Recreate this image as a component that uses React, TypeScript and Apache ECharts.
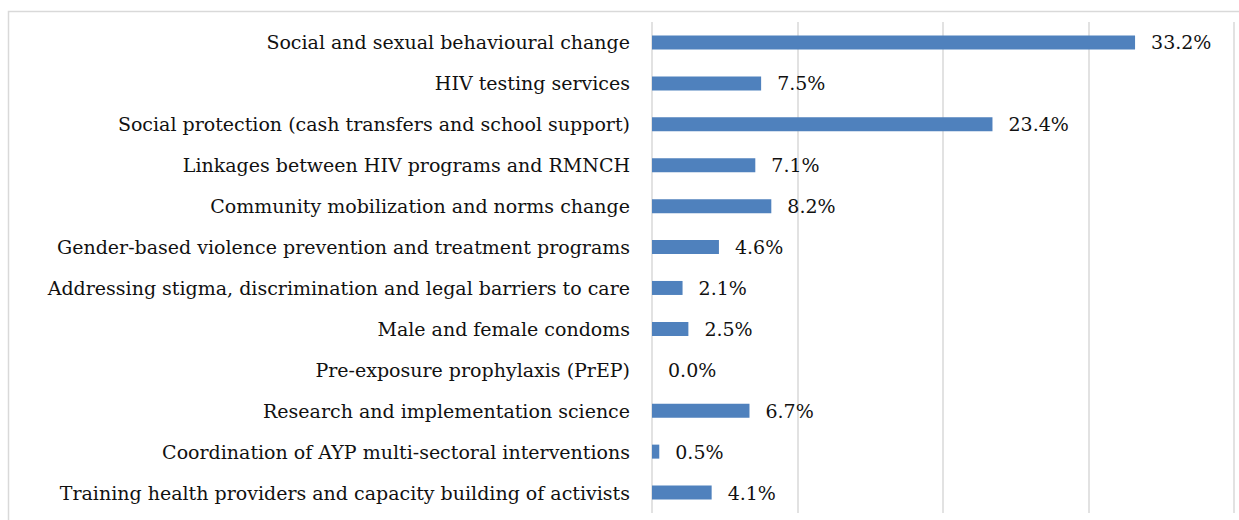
import React, { useEffect, useRef } from "react";
import * as echarts from "echarts";

const categories = [
  "Social and sexual behavioural change",
  "HIV testing services",
  "Social protection (cash transfers and school support)",
  "Linkages between HIV programs and RMNCH",
  "Community mobilization and norms change",
  "Gender-based violence prevention and treatment programs",
  "Addressing stigma, discrimination and legal barriers to care",
  "Male and female condoms",
  "Pre-exposure prophylaxis (PrEP)",
  "Research and implementation science",
  "Coordination of AYP multi-sectoral interventions",
  "Training health providers and capacity building of activists",
];
const values = [33.2, 7.5, 23.4, 7.1, 8.2, 4.6, 2.1, 2.5, 0.0, 6.7, 0.5, 4.1];
const axisMax = 40;

export default function App() {
  const ref = useRef<HTMLDivElement>(null);
  useEffect(() => {
    const chart = echarts.init(ref.current!, null, { renderer: "svg" });
    chart.setOption({
      animation: false,
      backgroundColor: "#ffffff",
      graphic: [
        {
          type: "rect",
          shape: { x: 8.5, y: 11.5, width: 1240, height: 520 },
          style: { fill: "none", stroke: "#d9d9d9", lineWidth: 1.5 },
          silent: true,
        },
      ],
      grid: { left: 652, right: 5, top: 22, bottom: 7, containLabel: false },
      xAxis: {
        type: "value",
        min: 0,
        max: axisMax,
        interval: 10,
        axisLabel: { show: false },
        axisLine: { show: false },
        axisTick: { show: false },
        splitLine: { show: true, lineStyle: { color: "#d9d9d9", width: 1.5 } },
      },
      yAxis: {
        type: "category",
        inverse: true,
        data: categories,
        axisLine: { show: false },
        axisTick: { show: false },
        axisLabel: {
          margin: 22,
          color: "#111",
          fontFamily: "DejaVu Serif",
          fontSize: 19,
        },
      },
      series: [
        {
          type: "bar",
          data: values,
          barWidth: 14,
          itemStyle: { color: "#4f81bd" },
          label: {
            show: true,
            position: "right",
            distance: 16,
            color: "#111",
            fontFamily: "DejaVu Serif",
            fontSize: 19,
            formatter: (p: any) => p.value.toFixed(1) + "%",
          },
        },
      ],
    });
    return () => chart.dispose();
  }, []);
  return (
    <div
      ref={ref}
      style={{ position: "fixed", left: 0, top: 0, width: 1239, height: 520 }}
    />
  );
}
